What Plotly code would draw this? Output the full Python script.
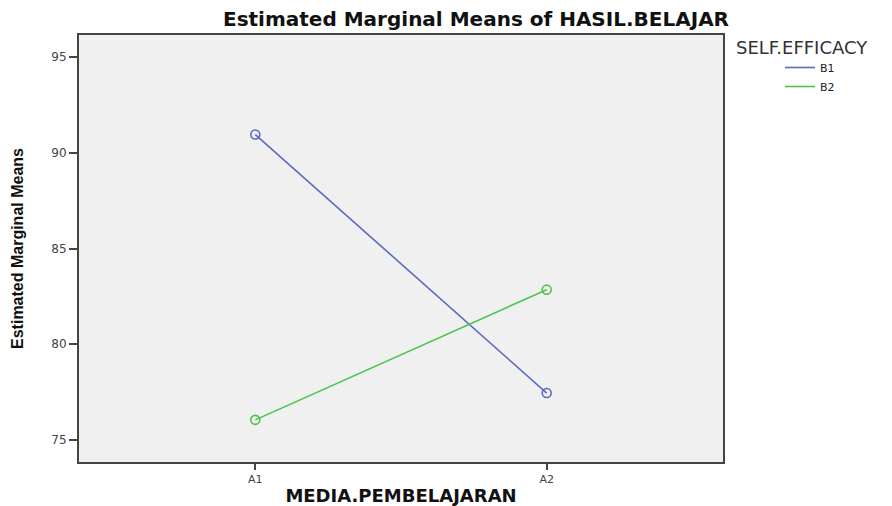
import plotly.graph_objects as go

categories = ["A1", "A2"]
b1_values = [90.95, 77.45]
b2_values = [76.05, 82.85]
series_names = ["B1", "B2"]
y_ticks = [75, 80, 85, 90, 95]

colors = ["#5a6ac4", "#4cc44c"]
FONT = "DejaVu Sans, Liberation Sans, Arial"

fig = go.Figure()
for name, vals, c in zip(series_names, [b1_values, b2_values], colors):
    fig.add_trace(go.Scatter(
        x=categories, y=vals, name=name, mode="lines+markers", showlegend=False,
        line=dict(color=c, width=1.6),
        marker=dict(symbol="circle-open", size=9, color=c, line=dict(width=1.6)),
    ))
# legend-only entries (line only, as in reference)
for name, c in zip(series_names, colors):
    fig.add_trace(go.Scatter(x=[None], y=[None], name=name, mode="lines",
                             line=dict(color=c, width=1.6), showlegend=True))

W, H = 892, 506
O = 7  # page offset of the figure in the screenshot
# target plot box in screenshot pixels
X0, X1, Y0, Y1 = 78, 722, 34, 461
L, T = X0 - O, Y0 - O
R, B = W - (X1 - O), H - (Y1 - O)
PW, PH = W - L - R, H - T - B


def px(x):  # screenshot x -> paper
    return (x - O - L) / PW


def py(y):  # screenshot y -> paper
    return (H - B - (y - O)) / PH


fig.update_layout(
    width=W, height=H,
    margin=dict(l=L, r=R, t=T, b=B, autoexpand=False),
    paper_bgcolor="white",
    plot_bgcolor="#f0f0f0",
    title=dict(text="<b>Estimated Marginal Means of HASIL.BELAJAR</b>",
               x=(475 - O) / W, xanchor="center", y=1 - (18 - O) / H, yanchor="middle",
               font=dict(family=FONT, size=20, color="#111")),
    xaxis=dict(type="category", range=[-0.605, 1.605], automargin=False,
               showgrid=False, zeroline=False,
               showline=True, linecolor="#444", linewidth=2, mirror=True,
               ticks="outside", ticklen=6, tickwidth=2, tickcolor="#444",
               tickfont=dict(family=FONT, size=11, color="#444"),
               title=dict(text="<b>MEDIA.PEMBELAJARAN</b>", standoff=4,
                          font=dict(family=FONT, size=18, color="#111"))),
    yaxis=dict(range=[73.85, 96.15], tickvals=y_ticks, automargin=False,
               showgrid=False, zeroline=False,
               showline=True, linecolor="#444", linewidth=2, mirror=True,
               ticks="outside", ticklen=8, tickwidth=2, tickcolor="#444",
               tickfont=dict(family=FONT, size=12, color="#444"),
               title=dict(text="<b>Estimated Marginal Means</b>", standoff=24,
                          font=dict(family="Liberation Sans Narrow, Liberation Sans, Arial", size=16, color="#111"))),
    legend=dict(x=px(779), y=py(52), yanchor="top", xanchor="left",
                font=dict(family=FONT, size=11, color="#222"),
                bgcolor="rgba(0,0,0,0)", tracegroupgap=0, itemwidth=30),
    showlegend=True,
)
fig.add_annotation(text="SELF.EFFICACY", xref="paper", yref="paper",
                   x=px(733), y=py(46), xanchor="left", yanchor="middle",
                   showarrow=False,
                   font=dict(family=FONT, size=18, color="#333"))

fig.write_html("out.html")
